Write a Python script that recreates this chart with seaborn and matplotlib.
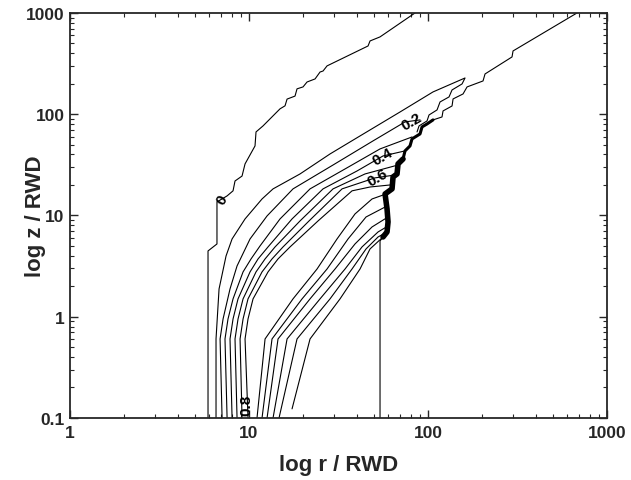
import matplotlib
matplotlib.use("Agg")
import matplotlib.pyplot as plt
import seaborn as sns
import pandas as pd

# contour lines (r and z in RWD)
# zero contour, left branch (staircase up to the top edge)
r_zero_left = [5.90, 5.90, 6.62, 6.62, 7.54, 8.14, 8.35, 9.14, 9.50, 10.80, 10.94, 11.97, 14.90,
               15.89, 16.31, 18.07, 18.54, 20.03, 21.09, 23.38, 24.93, 25.91, 27.28, 46.23, 47.43,
               53.93, 84.6]
z_zero_left = [0.1, 4.46, 5.23, 13.6, 15.6, 17.5, 21.9, 24.5, 32.3, 48.6, 66.8, 76.6, 113,
               121, 141, 151, 178, 186, 208, 223, 261, 267, 300, 472, 529,
               580, 1000]

# zero contour, right branch (front + vertical line at r ~ 54)
r_zero_right = [680, 298.5, 294.6, 208.2, 202.9, 165.2, 156.9, 138.0, 136.2, 121.3, 119.7, 106.6,
                98.72, 92.58, 90.23, 81.39, 79.32, 74.38, 72.50, 67.99, 67.12, 63.76, 62.95,
                57.53, 59.02, 59.79, 59.02, 56.06, 53.93, 53.93]
z_zero_right = [1000, 421.4, 367.7, 249.7, 213.0, 185.9, 158.5, 141.5, 120.6, 107.7, 93.9, 87.8,
                80.1, 74.9, 63.85, 57.0, 48.6, 43.4, 36.1, 32.3, 25.7, 24.0, 18.3,
                16.3, 11.6, 8.63, 6.87, 6.13, 5.60, 0.1]

# inner contours, from the bottom edge into the front
r_l1 = [6.54, 6.54, 6.80, 7.44, 8.04, 9.50, 11.82, 13.62, 19.27, 28.35, 41.70, 69.77, 106.6, 161.0,
        154.9, 136.2, 131.0, 116.7, 112.3, 101.3, 98.72, 89.08, 86.82]
z_l1 = [0.1, 0.603, 1.88, 3.98, 5.86, 9.24, 14.55, 18.3, 25.7, 40.5, 61.0, 105.2, 165.9, 228.0,
        199.0, 173.6, 148.1, 132.1, 110.2, 98.3, 85.8, 76.6, 66.8]
r_l2 = [7.07, 6.89, 7.16, 7.83, 8.57, 10.13, 12.61, 17.61, 29.47, 49.30, 74.38, 90.23]
z_l2 = [0.1, 0.603, 0.950, 1.88, 3.17, 5.86, 9.89, 18.3, 31.5, 54.5, 83.9, 87.8]
r_l3 = [7.54, 7.34, 7.63, 8.14, 9.26, 10.26, 11.52, 14.90, 21.92, 34.39, 53.93, 81.39]
z_l3 = [0.1, 0.603, 0.950, 1.50, 2.77, 3.72, 5.00, 9.24, 18.3, 28.8, 45.4, 59.6]
r_l4 = [8.04, 7.83, 8.14, 8.68, 10.13, 11.23, 12.77, 17.39, 25.91, 40.12, 56.06, 74.38]
z_l4 = [0.1, 0.603, 0.950, 1.50, 2.77, 3.72, 4.89, 9.24, 18.3, 27.5, 38.7, 43.4]
r_l5 = [8.57, 8.35, 8.68, 9.26, 10.94, 12.29, 13.98, 19.27, 29.47, 44.46, 67.99]
z_l5 = [0.1, 0.603, 0.950, 1.50, 2.77, 3.72, 4.89, 8.83, 18.3, 25.7, 31.5]
r_l6 = [9.14, 8.91, 9.26, 9.87, 11.82, 13.44, 15.49, 21.64, 33.08, 50.58, 65.41]
z_l6 = [0.1, 0.603, 0.950, 1.50, 2.77, 3.72, 4.89, 8.83, 18.3, 23.5, 25.1]
r_l7 = [9.87, 9.50, 9.87, 10.53, 12.77, 14.52, 16.95, 24.30, 37.62, 47.43, 61.35]
z_l7 = [0.1, 0.603, 0.950, 1.50, 2.77, 3.72, 4.89, 8.83, 17.5, 19.1, 20.0]
r_l8 = [11.08, 12.29, 17.61, 23.99, 31.02, 39.09, 48.67, 58.28]
z_l8 = [0.1, 0.603, 1.50, 2.96, 5.86, 10.35, 14.55, 16.3]
r_l9 = [11.82, 13.44, 19.78, 27.28, 35.74, 45.05, 59.02]
z_l9 = [0.1, 0.603, 1.50, 2.96, 5.86, 9.66, 12.4]
r_l10 = [12.61, 14.52, 21.92, 30.24, 39.09, 48.67, 59.79]
z_l10 = [0.1, 0.603, 1.50, 2.96, 5.23, 7.70, 9.66]
r_l11 = [13.62, 16.31, 24.93, 34.39, 42.79, 52.58, 59.79]
z_l11 = [0.1, 0.603, 1.50, 2.96, 4.89, 6.87, 7.87]
r_l12 = [14.71, 18.54, 28.35, 37.62, 45.05, 52.58, 59.02]
z_l12 = [0.1, 0.603, 1.50, 2.96, 4.67, 6.13, 6.87]
r_l13 = [17.39, 21.92, 32.24, 41.70, 47.43, 56.06]
z_l13 = [0.123, 0.603, 1.50, 2.96, 4.67, 6.13]

# contour labels
label_text = ["0", "0.2", "0.4", "0.6", "0.8"]
label_r = [7.07, 81.4, 56.06, 51.9, 9.62]
label_z = [14.55, 85.8, 38.7, 24.0, 0.1375]
label_rot = [60, 30, 30, 30, 90]

x_ticks = [1, 10, 100, 1000]
x_ticklabels = ["1", "10", "100", "1000"]
y_ticks = [0.1, 1, 10, 100, 1000]
y_ticklabels = ["0.1", "1", "10", "100", "1000"]

sns.set_style("ticks")
plt.rcParams["font.family"] = ["Liberation Sans", "DejaVu Sans"]
plt.rcParams["font.weight"] = "bold"

fig = plt.figure(figsize=(6.31, 4.81), dpi=100)
ax = fig.add_axes([0.111, 0.129, 0.851, 0.842])
ax.set_xscale("log")
ax.set_yscale("log")

lines = [(r_zero_left, z_zero_left), (r_zero_right, z_zero_right),
         (r_l1, z_l1), (r_l2, z_l2), (r_l3, z_l3), (r_l4, z_l4), (r_l5, z_l5),
         (r_l6, z_l6), (r_l7, z_l7), (r_l8, z_l8), (r_l9, z_l9), (r_l10, z_l10),
         (r_l11, z_l11), (r_l12, z_l12), (r_l13, z_l13)]
for r, z in lines:
    df = pd.DataFrame({"r": r, "z": z})
    sns.lineplot(data=df, x="r", y="z", sort=False, estimator=None,
                 color="black", linewidth=0.8, ax=ax)

# dense bundle of lines packed along the front
front = pd.DataFrame({"r": r_zero_right[11:19], "z": z_zero_right[11:19]})
sns.lineplot(data=front, x="r", y="z", sort=False, estimator=None,
             color="black", linewidth=2.2, ax=ax)
front_low = pd.DataFrame({"r": r_zero_right[18:28], "z": z_zero_right[18:28]})
sns.lineplot(data=front_low, x="r", y="z", sort=False, estimator=None,
             color="black", linewidth=4.0, ax=ax)

for t, r, z, rot in zip(label_text, label_r, label_z, label_rot):
    ax.text(r, z, t, rotation=rot, ha="center", va="center",
            fontsize=11, fontweight="bold", color="black")

ax.set_xlim(1, 1000)
ax.set_ylim(0.1, 1000)
ax.set_xticks(x_ticks)
ax.set_xticklabels(x_ticklabels)
ax.set_yticks(y_ticks)
ax.set_yticklabels(y_ticklabels)
ax.tick_params(which="both", direction="in", top=True, right=True, labelsize=12.5)
ax.tick_params(which="major", length=6, width=1)
ax.tick_params(which="minor", length=3, width=0.8)
ax.tick_params(axis="x", pad=5)
ax.tick_params(axis="y", pad=4)
for spine in ax.spines.values():
    spine.set_linewidth(1.3)
    spine.set_visible(True)

ax.set_xlabel("log r / RWD", fontsize=16, fontweight="bold")
ax.set_ylabel("log z / RWD", fontsize=16, fontweight="bold")
ax.xaxis.set_label_coords(0.5, -0.114)
ax.xaxis.label.set_va("center")
ax.yaxis.set_label_coords(-0.065, 0.5)
ax.yaxis.label.set_va("center")

fig.savefig("out.png", dpi=100)
